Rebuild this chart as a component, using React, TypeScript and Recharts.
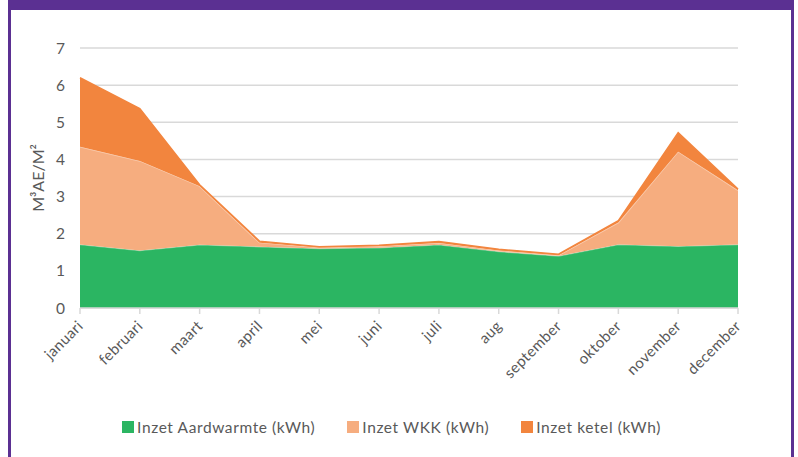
import { AreaChart, Area, XAxis, YAxis, CartesianGrid, Legend } from 'recharts';

const MONTHS = ['januari', 'februari', 'maart', 'april', 'mei', 'juni', 'juli', 'aug', 'september', 'oktober', 'november', 'december'];
const AARDWARMTE = [1.71, 1.55, 1.7, 1.65, 1.6, 1.62, 1.7, 1.52, 1.4, 1.71, 1.66, 1.71];
const WKK = [2.63, 2.41, 1.58, 0.11, 0.03, 0.04, 0.05, 0.03, 0.02, 0.59, 2.55, 1.46];
const KETEL = [1.86, 1.41, 0.04, 0.04, 0.02, 0.03, 0.04, 0.03, 0.03, 0.05, 0.51, 0.03];
const Y_TICKS = [0, 1, 2, 3, 4, 5, 6, 7];

const SERIES = [
  { key: 'aardwarmte', name: 'Inzet Aardwarmte (kWh)', color: '#2bb562' },
  { key: 'wkk', name: 'Inzet WKK (kWh)', color: '#f6ad7f' },
  { key: 'ketel', name: 'Inzet ketel (kWh)', color: '#f2853e' },
];

const data = MONTHS.map((month, i) => ({
  month,
  aardwarmte: AARDWARMTE[i],
  wkk: WKK[i],
  ketel: KETEL[i],
}));

const FONT = 'Lato, "Open Sans", sans-serif';
const TEXT = '#595959';
const PURPLE = '#5b3092';

function MonthTick({ x, y, payload }: any) {
  return (
    <text
      x={x + 4}
      y={y + 11}
      transform={`rotate(-45, ${x + 4}, ${y + 11})`}
      textAnchor="end"
      fontSize={15}
      letterSpacing={0.4}
      fontFamily={FONT}
      fill={TEXT}
    >
      {payload.value}
    </text>
  );
}

function LegendContent() {
  return (
    <div style={{ display: 'flex', justifyContent: 'center', gap: 32, fontFamily: FONT, fontSize: 15.5, letterSpacing: 0.6, color: TEXT, paddingLeft: 45 }}>
      {SERIES.map((s) => (
        <div key={s.key} style={{ display: 'flex', alignItems: 'center' }}>
          <span style={{ width: 12, height: 12, background: s.color, marginRight: 3, display: 'inline-block' }} />
          {s.name}
        </div>
      ))}
    </div>
  );
}

export default function App() {
  return (
    <div style={{ position: 'absolute', left: 0, top: 0, width: 798, height: 457, background: '#fff', overflow: 'hidden' }}>
      <div
        style={{
          position: 'absolute',
          left: 8,
          top: 0,
          width: 780,
          height: 470,
          borderLeft: `3px solid ${PURPLE}`,
          borderRight: `3px solid ${PURPLE}`,
          borderTop: `10px solid ${PURPLE}`,
        }}
      />
      <div style={{ position: 'absolute', left: 0, top: 0 }}>
        <AreaChart width={798} height={457} data={data} margin={{ top: 48, right: 60, left: 0, bottom: 19 }}>
          <CartesianGrid horizontal vertical={false} stroke="#d9d9d9" strokeWidth={1.5} />
          <XAxis
            dataKey="month"
            interval={0}
            height={110}
            tick={<MonthTick />}
            axisLine={{ stroke: '#d9d9d9', strokeWidth: 1.5 }}
            tickLine={{ stroke: '#d9d9d9', strokeWidth: 1.5 }}
            tickSize={6}
          />
          <YAxis
            width={80}
            domain={[0, 7]}
            ticks={Y_TICKS}
            axisLine={false}
            tickLine={false}
            tickSize={0}
            tickMargin={15}
            tick={{ fontSize: 15.5, fill: TEXT, fontFamily: FONT }}
            label={{ value: 'M³AE/M²', angle: -90, position: 'center', dx: -2, fill: TEXT, fontSize: 16, fontFamily: FONT }}
          />
          <Legend verticalAlign="bottom" height={20} content={<LegendContent />} />
          {SERIES.map((s) => (
            <Area
              key={s.key}
              type="linear"
              dataKey={s.key}
              name={s.name}
              stackId="1"
              fill={s.color}
              fillOpacity={1}
              stroke={s.key === 'ketel' ? s.color : '#ffffff'}
              strokeOpacity={s.key === 'ketel' ? 1 : 0.35}
              strokeWidth={1.5}
              isAnimationActive={false}
            />
          ))}
        </AreaChart>
      </div>
    </div>
  );
}
